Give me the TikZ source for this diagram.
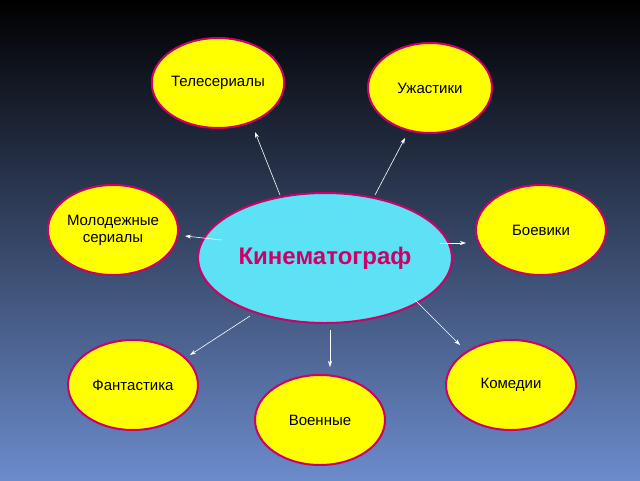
\documentclass[tikz,border=0pt]{standalone}
\usepackage{fontspec}
\setmainfont{Liberation Sans}
\usetikzlibrary{shapes.geometric,arrows.meta}
\definecolor{mag}{HTML}{CC0066}
\definecolor{yel}{HTML}{FFFF00}
\definecolor{cyn}{HTML}{5CE1F5}
\definecolor{bgbot}{HTML}{6B8BCB}
\begin{document}
\begin{tikzpicture}[x=1pt,y=-1pt,
  sat/.style={ellipse,draw=mag,line width=2pt,fill=yel,align=center,font=\fontsize{15}{17}\selectfont,inner sep=0pt},
  arr/.style={white,line width=0.6pt,-{Stealth[length=6pt,width=4pt]}}]
\shade[top color=black,bottom color=bgbot] (0,0) rectangle (640,480);
\useasboundingbox (0,0) rectangle (640,480);
\node[ellipse,draw=mag,line width=2pt,fill=cyn,minimum width=210,minimum height=130,text=mag,font=\bfseries\fontsize{24}{28}\selectfont] (c) at (325,258) {Кинематограф};
\node[sat,minimum width=116,minimum height=90] (t) at (218,83) {Телесериалы};
\node[sat,minimum width=124,minimum height=90] (u) at (430,88) {Ужастики};
\node[sat,minimum width=130,minimum height=90] (m) at (113,230) {Молодежные\\ сериалы};
\node[sat,minimum width=130,minimum height=90] (b) at (541,230) {Боевики};
\node[sat,minimum width=130,minimum height=90] (f) at (133,385) {Фантастика};
\node[sat,minimum width=130,minimum height=90] (v) at (320,420) {Военные};
\node[sat,minimum width=130,minimum height=90] (k) at (511,385) {Комедии};
\coordinate (a1) at (280,195); \coordinate (a1e) at (255,132);
\coordinate (a2) at (375,195); \coordinate (a2e) at (405,138);
\coordinate (a3) at (222,240); \coordinate (a3e) at (185,236);
\coordinate (a4) at (440,243); \coordinate (a4e) at (466,243);
\coordinate (a5) at (250,316); \coordinate (a5e) at (190,355);
\coordinate (a6) at (330,330); \coordinate (a6e) at (330,367);
\coordinate (a7) at (415,300); \coordinate (a7e) at (460,345);
\foreach \i in {1,...,7} \draw[arr] (a\i) -- (a\i e);
\end{tikzpicture}
\end{document}
